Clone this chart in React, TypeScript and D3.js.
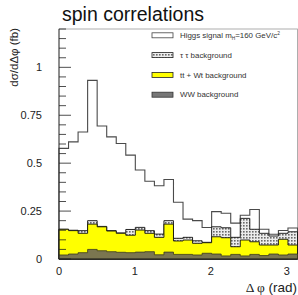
import * as d3 from "d3";

// bin contents (fb/rad), 25 bins over [0, pi]
const WW = [0.021, 0.026, 0.033, 0.05, 0.043, 0.038, 0.035, 0.033, 0.036, 0.038, 0.022, 0.036, 0.024, 0.024, 0.021, 0.03, 0.026, 0.016, 0.024, 0.016, 0.024, 0.018, 0.026, 0.021, 0.026];
const TT = [0.134, 0.122, 0.101, 0.132, 0.125, 0.108, 0.099, 0.091, 0.115, 0.096, 0.091, 0.146, 0.07, 0.075, 0.061, 0.055, 0.09, 0.095, 0.04, 0.083, 0.066, 0.055, 0.047, 0.082, 0.047];
const TAU = [0, 0.002, 0.014, 0.018, 0.002, 0.002, 0.002, 0.03, 0.014, 0.014, 0.017, 0.018, 0.014, 0.014, 0.013, 0.002, 0.052, 0.052, 0.049, 0.113, 0.065, 0.061, 0.047, 0.031, 0.069];
const HIGGS = [0.422, 0.461, 0.515, 0.732, 0.524, 0.489, 0.467, 0.388, 0.299, 0.258, 0.252, 0.215, 0.188, 0.095, 0.105, 0.077, 0.079, 0.076, 0.074, 0.016, 0.103, 0.021, 0.009, 0.015, 0.02];

const Y_TICKS = [0, 0.25, 0.5, 0.75, 1];
const Y_TICK_LABELS = ["0", "0.25", "0.5", "0.75", "1"];
const X_TICKS = [0, 1, 2, 3];

const W = 298;
const H = 295;
const ML = 59;
const MR = 0.5;
const MT = 29;
const Y0 = 259;

const SANS = "'Liberation Sans', Arial, Helvetica, sans-serif";

export default function App() {
  const nBins = HIGGS.length;
  const x = d3.scaleLinear().domain([0, Math.PI]).range([ML, W - MR]);
  const y = d3.scaleLinear().domain([0, 1.2]).range([Y0, MT]);
  const edges = d3.range(nBins + 1).map((i) => (i * Math.PI) / nBins);

  const rows = HIGGS.map((_, i) => ({
    ww: WW[i],
    tt: TT[i],
    tau: TAU[i],
    higgs: HIGGS[i],
  }));
  const series = d3.stack<(typeof rows)[0]>().keys(["ww", "tt", "tau", "higgs"])(rows);

  // cumulative tops per layer, with the last bin repeated on the right edge
  const pts = (s: d3.Series<any, string>) =>
    edges.map((e, i) => ({ e, v: s[Math.min(i, nBins - 1)][1] }));

  const area = d3
    .area<{ e: number; v: number }>()
    .x((d) => x(d.e))
    .y0(y(0))
    .y1((d) => y(d.v))
    .curve(d3.curveStepAfter);

  const [sWW, sTT, sTAU, sSIG] = series;
  const layers = [
    { s: sSIG, fill: "#ffffff", stroke: "#4a4a4a", w: 1.1 },
    { s: sTAU, fill: "url(#dots)", stroke: "#111", w: 0.9 },
    { s: sTT, fill: "#ffff00", stroke: "#111", w: 0.9 },
    { s: sWW, fill: "#7b7650", stroke: "#3a3820", w: 0.8 },
  ];

  const minor = d3.range(0, 1.2001, 0.05);

  const legend = [
    { key: "higgs", fill: "#ffffff", stroke: "#444" },
    { key: "tau", fill: "url(#dots)", stroke: "#222" },
    { key: "tt", fill: "#ffff00", stroke: "#222" },
    { key: "ww", fill: "#777777", stroke: "#333" },
  ];

  return (
    <svg
      width={W}
      height={H}
      viewBox={`0 0 ${W} ${H}`}
      style={{ position: "absolute", left: 0, top: 0, background: "#fff" }}
    >
      <defs>
        <pattern id="dots" width={3} height={3} patternUnits="userSpaceOnUse">
          <rect width={3} height={3} fill="#ececec" />
          <rect width={1.6} height={1.6} fill="#6a6a6a" />
        </pattern>
      </defs>

      <text x={62} y={21} fontFamily={SANS} fontSize={19.5} fill="#111">
        spin correlations
      </text>

      {/* frame */}
      <rect x={ML} y={MT} width={W - MR - ML} height={Y0 - MT} fill="none" stroke="#999" strokeWidth={0.8} />

      {layers.map((l, i) => (
        <path key={i} d={area(pts(l.s)) ?? ""} fill={l.fill} stroke={l.stroke} strokeWidth={l.w} />
      ))}

      {/* left axis */}
      <g stroke="#222" strokeWidth={0.8}>
        <line x1={ML} x2={ML} y1={MT} y2={Y0} />
        <line x1={ML} x2={W - MR} y1={Y0} y2={Y0} />
        {minor.map((t, i) => {
          const major = Math.abs((t / 0.25) - Math.round(t / 0.25)) < 1e-6;
          return (
            <line key={i} x1={ML} x2={ML + (major ? 12 : 7)} y1={y(t)} y2={y(t)} />
          );
        })}
      </g>

      <g fontFamily={SANS} fontSize={11} fill="#222">
        {Y_TICKS.map((t, i) => (
          <text key={t} x={42} y={y(t)} dy="0.35em" textAnchor="end">
            {Y_TICK_LABELS[i]}
          </text>
        ))}
        {X_TICKS.map((t) => (
          <text key={t} x={x(t)} y={275} textAnchor="middle">
            {t}
          </text>
        ))}
      </g>

      <text
        transform="translate(18,28) rotate(-90)"
        textAnchor="end"
        fontFamily={SANS}
        fontSize={11.5}
        fill="#222"
      >
        dσ/dΔφ (fb)
      </text>

      <text x={297} y={292} textAnchor="end" fontFamily={SANS} fontSize={13.5} fill="#222">
        <tspan fontFamily="'Liberation Serif', 'Times New Roman', serif">Δ φ</tspan> (rad)
      </text>

      {/* legend */}
      <g fontFamily={SANS} fontSize={7.9} fill="#333">
        {legend.map((l, i) => {
          const cy = 35.3 + i * 19.8;
          return (
            <g key={l.key}>
              <rect x={152} y={cy - 2.5} width={21} height={5} fill={l.fill} stroke={l.stroke} strokeWidth={0.8} />
              <text x={180} y={cy} dy="0.35em">
                {l.key === "higgs" && (
                  <>
                    Higgs signal m<tspan fontSize={4.8} dy={1.5}>H</tspan>
                    <tspan dy={-1.5}>=160 GeV/c</tspan>
                    <tspan fontSize={4.8} dy={-3}>2</tspan>
                  </>
                )}
                {l.key === "tau" && "τ τ  background"}
                {l.key === "tt" && "tt + Wt background"}
                {l.key === "ww" && "WW background"}
              </text>
            </g>
          );
        })}
      </g>
    </svg>
  );
}
